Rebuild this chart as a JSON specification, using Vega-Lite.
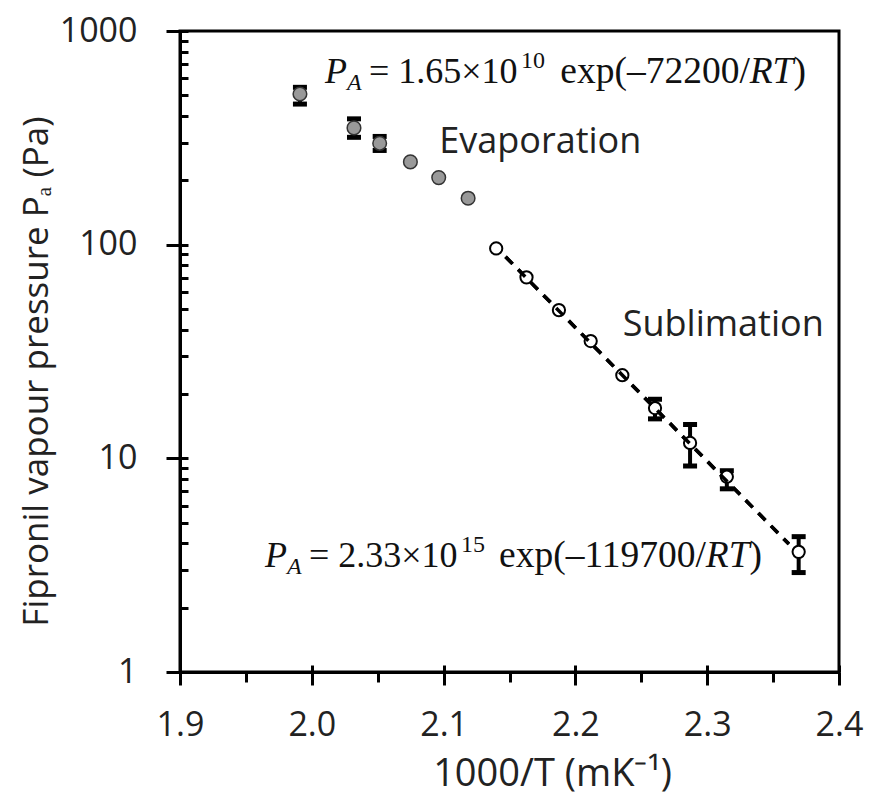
{
  "$schema": "https://vega.github.io/schema/vega-lite/v6.json",
  "width": 659,
  "height": 641,
  "autosize": {"type": "none"},
  "padding": {"left": 180, "top": 31, "right": 31, "bottom": 127},
  "background": "white",
  "config": {
    "view": {"stroke": "black", "strokeWidth": 3},
    "axis": {
      "grid": false,
      "domainColor": "black",
      "domainWidth": 3,
      "tickColor": "black",
      "tickWidth": 3,
      "labelFont": "Open Sans",
      "labelFontSize": 34,
      "labelColor": "#222",
      "labelFlush": false,
      "labelOverlap": false,
      "labelBound": false,
      "titleFont": "Open Sans",
      "titleColor": "#222",
      "titleFontWeight": "normal"
    }
  },
  "datasets": {
    "pts": [
      {"phase": "Evaporation", "x": 1.991, "p": 507, "lo": 455, "hi": 545},
      {"phase": "Evaporation", "x": 2.032, "p": 352, "lo": 318, "hi": 388},
      {"phase": "Evaporation", "x": 2.0515, "p": 298, "lo": 276, "hi": 321},
      {"phase": "Evaporation", "x": 2.0748, "p": 244, "lo": null, "hi": null},
      {"phase": "Evaporation", "x": 2.0963, "p": 206, "lo": null, "hi": null},
      {"phase": "Evaporation", "x": 2.1186, "p": 165, "lo": null, "hi": null},
      {"phase": "Sublimation", "x": 2.1399, "p": 96, "lo": null, "hi": null},
      {"phase": "Sublimation", "x": 2.1629, "p": 70.3, "lo": null, "hi": null},
      {"phase": "Sublimation", "x": 2.1875, "p": 49.4, "lo": null, "hi": null},
      {"phase": "Sublimation", "x": 2.2116, "p": 35.4, "lo": null, "hi": null},
      {"phase": "Sublimation", "x": 2.2356, "p": 24.5, "lo": null, "hi": null},
      {"phase": "Sublimation", "x": 2.2604, "p": 17.2, "lo": 15.3, "hi": 18.9},
      {"phase": "Sublimation", "x": 2.287, "p": 11.8, "lo": 9.2, "hi": 14.4},
      {"phase": "Sublimation", "x": 2.3149, "p": 8.2, "lo": 7.2, "hi": 8.75},
      {"phase": "Sublimation", "x": 2.3694, "p": 3.65, "lo": 2.92, "hi": 4.3}
    ],
    "fit": [
      {"x": 2.147, "p": 87.8},
      {"x": 2.362, "p": 3.97}
    ],
    "eq": [
      {"lx": 2.010, "rx": 2.3749, "by": 568.6, "coef": "= 1.65×10", "pow": "10", "expo": "exp(–72200/"},
      {"lx": 1.9645, "rx": 2.3416, "by": 3.11, "coef": "= 2.33×10", "pow": "15", "expo": "exp(–119700/"}
    ],
    "lab": [
      {"x": 2.0967, "y": 267.4, "t": "Evaporation"},
      {"x": 2.2359, "y": 37.4, "t": "Sublimation"}
    ]
  },
  "layer": [
    {
      "data": {"name": "fit"},
      "mark": {"type": "line", "color": "black", "strokeWidth": 3.5, "strokeDash": [10, 8]},
      "encoding": {
        "x": {"field": "x", "type": "quantitative",
          "scale": {"domain": [1.9, 2.4], "nice": false, "zero": false},
          "axis": {"orient": "bottom", "values": [1.9, 2.0, 2.1, 2.2, 2.3, 2.4], "format": ".1f",
            "tickSize": 13, "labelPadding": 23,
            "title": "1000/T (mK⁻¹)", "titleFontSize": 38,
            "titleX": 372, "titleY": 113, "titleBaseline": "alphabetic", "titleAlign": "center"}},
        "y": {"field": "p", "type": "quantitative",
          "scale": {"type": "log", "domain": [1, 1000], "nice": false},
          "axis": {"orient": "left", "values": [1, 10, 100, 1000], "format": "d",
            "tickSize": 14, "labelPadding": 29,
            "title": "Fipronil vapour pressure Pₐ (Pa)", "titleFontSize": 35,
            "titleAngle": 270, "titleX": -133, "titleY": 340, "titleBaseline": "alphabetic", "titleAlign": "center"}}
      }
    },
    {
      "data": {"name": "pts"},
      "transform": [{"filter": "isValid(datum.lo)"}],
      "mark": {"type": "rule", "color": "black", "strokeWidth": 4},
      "encoding": {
        "x": {"field": "x", "type": "quantitative",
          "axis": {"orient": "bottom", "values": [1.95, 2.05, 2.15, 2.25, 2.35], "tickSize": 10, "labels": false, "domain": false, "title": null}},
        "y": {"field": "lo", "type": "quantitative",
          "axis": {"orient": "left", "values": [1,2,3,4,5,6,7,8,9,10,20,30,40,50,60,70,80,90,100,200,300,400,500,600,700,800,900,1000],
            "tickSize": -8, "labels": false, "domain": false, "title": null}},
        "y2": {"field": "hi"}
      }
    },
    {
      "data": {"name": "pts"},
      "transform": [{"filter": "isValid(datum.lo)"}],
      "mark": {"type": "tick", "orient": "horizontal", "color": "black", "size": 14, "thickness": 5, "opacity": 1},
      "encoding": {
        "x": {"field": "x", "type": "quantitative",
          "axis": {"orient": "bottom", "values": [1.9, 2.0, 2.1, 2.2, 2.3, 2.4], "tickSize": -7, "labels": false, "domain": false, "title": null}},
        "y": {"field": "lo", "type": "quantitative", "axis": null}
      }
    },
    {
      "data": {"name": "pts"},
      "transform": [{"filter": "isValid(datum.hi)"}],
      "mark": {"type": "tick", "orient": "horizontal", "color": "black", "size": 14, "thickness": 5, "opacity": 1},
      "encoding": {
        "x": {"field": "x", "type": "quantitative", "axis": null},
        "y": {"field": "hi", "type": "quantitative", "axis": null}
      }
    },
    {
      "data": {"name": "pts"},
      "transform": [{"filter": "datum.phase === 'Evaporation'"}],
      "mark": {"type": "circle", "fill": "#999999", "stroke": "#333333", "strokeWidth": 1.5, "size": 185, "opacity": 1},
      "encoding": {
        "x": {"field": "x", "type": "quantitative", "axis": null},
        "y": {"field": "p", "type": "quantitative", "axis": null}
      }
    },
    {
      "data": {"name": "pts"},
      "transform": [{"filter": "datum.phase === 'Sublimation'"}],
      "mark": {"type": "circle", "fill": "white", "stroke": "black", "strokeWidth": 2, "size": 150, "opacity": 1},
      "encoding": {
        "x": {"field": "x", "type": "quantitative", "axis": null},
        "y": {"field": "p", "type": "quantitative", "axis": null}
      }
    },
    {
      "data": {"name": "fit"},
      "mark": {"type": "line", "color": "black", "strokeWidth": 3.5, "strokeDash": [10, 8]},
      "encoding": {
        "x": {"field": "x", "type": "quantitative", "axis": null},
        "y": {"field": "p", "type": "quantitative", "axis": null}
      }
    },
    {
      "data": {"name": "lab"},
      "mark": {"type": "text", "font": "Open Sans", "fontSize": 36, "color": "#222", "align": "left", "baseline": "alphabetic"},
      "encoding": {
        "x": {"field": "x", "type": "quantitative", "axis": null},
        "y": {"field": "y", "type": "quantitative", "axis": null},
        "text": {"field": "t"}
      }
    },
    {
      "data": {"name": "eq"},
      "mark": {"type": "text", "font": "Liberation Serif", "fontStyle": "italic", "fontSize": 36, "color": "#111", "align": "left", "baseline": "alphabetic"},
      "encoding": {
        "x": {"field": "lx", "type": "quantitative", "axis": null},
        "y": {"field": "by", "type": "quantitative", "axis": null},
        "text": {"value": "P"}
      }
    },
    {
      "data": {"name": "eq"},
      "mark": {"type": "text", "font": "Liberation Serif", "fontStyle": "italic", "fontSize": 24, "color": "#111", "align": "left", "baseline": "alphabetic", "dx": 22, "dy": 7},
      "encoding": {
        "x": {"field": "lx", "type": "quantitative", "axis": null},
        "y": {"field": "by", "type": "quantitative", "axis": null},
        "text": {"value": "A"}
      }
    },
    {
      "data": {"name": "eq"},
      "mark": {"type": "text", "font": "Liberation Serif", "fontSize": 36, "color": "#111", "align": "left", "baseline": "alphabetic", "dx": 44},
      "encoding": {
        "x": {"field": "lx", "type": "quantitative", "axis": null},
        "y": {"field": "by", "type": "quantitative", "axis": null},
        "text": {"field": "coef"}
      }
    },
    {
      "data": {"name": "eq"},
      "mark": {"type": "text", "font": "Liberation Serif", "fontSize": 24, "color": "#111", "align": "left", "baseline": "alphabetic", "dx": 196, "dy": -15},
      "encoding": {
        "x": {"field": "lx", "type": "quantitative", "axis": null},
        "y": {"field": "by", "type": "quantitative", "axis": null},
        "text": {"field": "pow"}
      }
    },
    {
      "data": {"name": "eq"},
      "mark": {"type": "text", "font": "Liberation Serif", "fontSize": 37.5, "color": "#111", "align": "right", "baseline": "alphabetic", "dx": -56},
      "encoding": {
        "x": {"field": "rx", "type": "quantitative", "axis": null},
        "y": {"field": "by", "type": "quantitative", "axis": null},
        "text": {"field": "expo"}
      }
    },
    {
      "data": {"name": "eq"},
      "mark": {"type": "text", "font": "Liberation Serif", "fontStyle": "italic", "fontSize": 37.5, "color": "#111", "align": "right", "baseline": "alphabetic", "dx": -12.5},
      "encoding": {
        "x": {"field": "rx", "type": "quantitative", "axis": null},
        "y": {"field": "by", "type": "quantitative", "axis": null},
        "text": {"value": "RT"}
      }
    },
    {
      "data": {"name": "eq"},
      "mark": {"type": "text", "font": "Liberation Serif", "fontSize": 37.5, "color": "#111", "align": "right", "baseline": "alphabetic"},
      "encoding": {
        "x": {"field": "rx", "type": "quantitative", "axis": null},
        "y": {"field": "by", "type": "quantitative", "axis": null},
        "text": {"value": ")"}
      }
    }
  ],
  "resolve": {"axis": {"x": "independent", "y": "independent"}}
}
